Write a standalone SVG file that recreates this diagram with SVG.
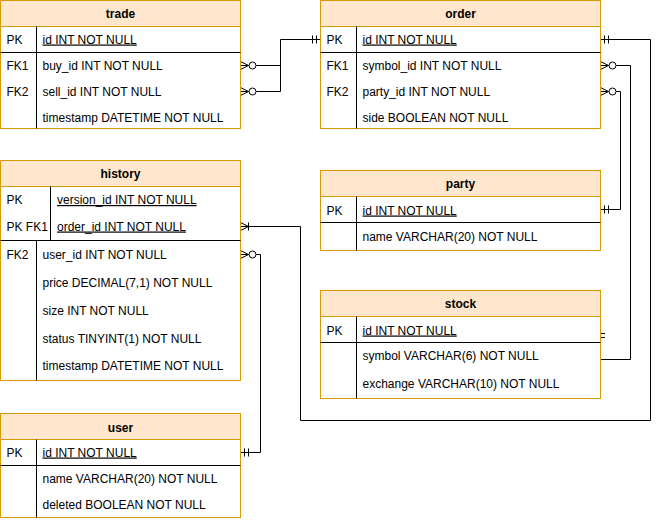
<svg xmlns="http://www.w3.org/2000/svg" width="660" height="521" viewBox="0 0 660 521">
  <style>
    text { font-family: "Liberation Sans", Arial, sans-serif; font-size: 12px; fill: #000; }
    .title { font-weight: bold; text-anchor: middle; }
    .pk { text-decoration: underline; }
    .box { fill: #ffffff; stroke: #d79b00; stroke-width: 1; }
    .head { fill: #ffe6cc; stroke: #d79b00; stroke-width: 1; }
    .sep { stroke: #000; stroke-width: 1; fill: none; }
    .edge { stroke: #000; stroke-width: 1; fill: none; }
  </style>
  <defs>
    <!-- crow's foot with circle: zero or many -->
    <g id="zeroMany" class="edge">
      <path d="M0,-4 L8,0 M0,0 L8,0 M0,4 L8,0" stroke="#000" fill="none"/>
      <circle cx="12" cy="0" r="3.5" fill="#fff" stroke="#000"/>
    </g>
    <!-- double bar: exactly one -->
    <g id="mandOne">
      <path d="M0,0 L10,0 M4,-4 V4 M8,-4 V4" stroke="#000" fill="none"/>
    </g>
    <!-- crow's foot with bar: one or many -->
    <g id="oneMany">
      <path d="M0,-4 L8,0 M0,0 L8,0 M0,4 L8,0 M8,-4 V4" stroke="#000" fill="none"/>
    </g>
  </defs>

  <!-- relationships -->
  <g id="connectors">
    <path class="edge" d="M255.5,65.5 H280.5 M255.5,91.5 H280.5 V39.5 H320.5"/>
    <use href="#zeroMany" transform="translate(240.5,65.5)"/>
    <use href="#zeroMany" transform="translate(240.5,91.5)"/>
    <use href="#mandOne" transform="translate(320.5,39.5) scale(-1,1)"/>

    <path class="edge" d="M600.5,39.5 H650.5 V420.5 H300.5 V226.5 H240.5"/>
    <use href="#mandOne" transform="translate(600.5,39.5)"/>
    <use href="#oneMany" transform="translate(240.5,226.5)"/>

    <path class="edge" d="M615.5,65.5 H630.5 V359.5 H600.5"/>
    <use href="#zeroMany" transform="translate(600.5,65.5)"/>
    <path class="edge" d="M596,333.5 H605 M596,337.5 H605"/>

    <path class="edge" d="M615.5,91.5 H620.5 V209.5 H600.5"/>
    <use href="#zeroMany" transform="translate(600.5,91.5)"/>
    <use href="#mandOne" transform="translate(600.5,209.5)"/>

    <path class="edge" d="M255.5,254.5 H260.5 V452.5 H240.5"/>
    <use href="#zeroMany" transform="translate(240.5,254.5)"/>
    <use href="#mandOne" transform="translate(240.5,452.5)"/>
  </g>

  <!-- trade -->
  <g id="trade">
    <rect class="box" x="0.5" y="0.5" width="240" height="128"/>
    <rect class="head" x="0.5" y="0.5" width="240" height="26"/>
    <path class="sep" d="M0.5,52.5 H240.5 M36.5,26.5 V128.5"/>
    <text class="title" x="120.5" y="17.5">trade</text>
    <text x="6.5" y="43.5">PK</text>
    <text class="pk" x="42.5" y="43.5">id INT NOT NULL</text>
    <text x="6.5" y="69.5">FK1</text>
    <text x="42.5" y="69.5">buy_id INT NOT NULL</text>
    <text x="6.5" y="95.5">FK2</text>
    <text x="42.5" y="95.5">sell_id INT NOT NULL</text>
    <text x="42.5" y="121.5">timestamp DATETIME NOT NULL</text>
  </g>

  <!-- order -->
  <g id="order">
    <rect class="box" x="320.5" y="0.5" width="280" height="128"/>
    <rect class="head" x="320.5" y="0.5" width="280" height="26"/>
    <path class="sep" d="M320.5,52.5 H600.5 M356.5,26.5 V128.5"/>
    <text class="title" x="460.5" y="17.5">order</text>
    <text x="326.5" y="43.5">PK</text>
    <text class="pk" x="362.5" y="43.5">id INT NOT NULL</text>
    <text x="326.5" y="69.5">FK1</text>
    <text x="362.5" y="69.5">symbol_id INT NOT NULL</text>
    <text x="326.5" y="95.5">FK2</text>
    <text x="362.5" y="95.5">party_id INT NOT NULL</text>
    <text x="362.5" y="121.5">side BOOLEAN NOT NULL</text>
  </g>

  <!-- history -->
  <g id="history">
    <rect class="box" x="0.5" y="160.5" width="240" height="220"/>
    <rect class="head" x="0.5" y="160.5" width="240" height="26"/>
    <path class="sep" d="M0.5,240.5 H240.5 M50.5,186.5 V240.5 M36.5,240.5 V380.5"/>
    <text class="title" x="120.5" y="177.5">history</text>
    <text x="6.5" y="204">PK</text>
    <text class="pk" x="57" y="204">version_id INT NOT NULL</text>
    <text x="6.5" y="230.5">PK FK1</text>
    <text class="pk" x="57" y="230.5">order_id INT NOT NULL</text>
    <text x="6.5" y="258.5">FK2</text>
    <text x="42.5" y="258.5">user_id INT NOT NULL</text>
    <text x="42.5" y="286.5">price DECIMAL(7,1) NOT NULL</text>
    <text x="42.5" y="314.5">size INT NOT NULL</text>
    <text x="42.5" y="342.5">status TINYINT(1) NOT NULL</text>
    <text x="42.5" y="370">timestamp DATETIME NOT NULL</text>
  </g>

  <!-- party -->
  <g id="party">
    <rect class="box" x="320.5" y="170.5" width="280" height="80"/>
    <rect class="head" x="320.5" y="170.5" width="280" height="26"/>
    <path class="sep" d="M320.5,222.5 H600.5 M356.5,196.5 V250.5"/>
    <text class="title" x="460.5" y="188">party</text>
    <text x="326.5" y="214.5">PK</text>
    <text class="pk" x="362.5" y="214.5">id INT NOT NULL</text>
    <text x="362.5" y="240.5">name VARCHAR(20) NOT NULL</text>
  </g>

  <!-- stock -->
  <g id="stock">
    <rect class="box" x="320.5" y="290.5" width="280" height="108"/>
    <rect class="head" x="320.5" y="290.5" width="280" height="26"/>
    <path class="sep" d="M320.5,342.5 H600.5 M356.5,316.5 V398.5"/>
    <text class="title" x="460.5" y="308">stock</text>
    <text x="326.5" y="334.5">PK</text>
    <text class="pk" x="362.5" y="334.5">id INT NOT NULL</text>
    <text x="362.5" y="360">symbol VARCHAR(6) NOT NULL</text>
    <text x="362.5" y="388">exchange VARCHAR(10) NOT NULL</text>
  </g>

  <!-- user -->
  <g id="user">
    <rect class="box" x="0.5" y="413.5" width="240" height="104"/>
    <rect class="head" x="0.5" y="413.5" width="240" height="26"/>
    <path class="sep" d="M0.5,465.5 H240.5 M36.5,439.5 V517.5"/>
    <text class="title" x="120.5" y="431.5">user</text>
    <text x="6.5" y="456.5">PK</text>
    <text class="pk" x="42.5" y="456.5">id INT NOT NULL</text>
    <text x="42.5" y="482.5">name VARCHAR(20) NOT NULL</text>
    <text x="42.5" y="508.5">deleted BOOLEAN NOT NULL</text>
  </g>
</svg>
